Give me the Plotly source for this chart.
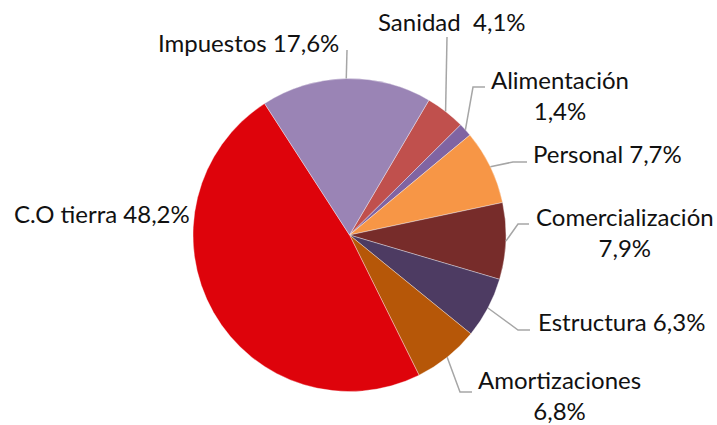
"""
Distribución de costes (gráfico de tarta estilo Excel).
"""
import math
import plotly.graph_objects as go

W, H = 717, 425

# datos
categorias = ["Sanidad", "Alimentación", "Personal", "Comercialización",
              "Estructura", "Amortizaciones", "C.O tierra", "Impuestos"]
porcentajes = [4.1, 1.4, 7.7, 7.9, 6.3, 6.8, 48.2, 17.6]
separadores = ["\u00a0 ", "<br>", " ", "<br>", " ", "<br>", " ", " "]
colores = ["#C0504D", "#8064A2", "#F79646", "#772C2A",
           "#4D3B62", "#B65708", "#DE030B", "#9A84B5"]

# geometría de la tarta (px)
CX, CY, R = 349.5, 235, 156.5
ROTACION = 30.5

# posición de etiquetas (px): x, y, xanchor
pos_etiquetas = [
    (452, 21, "center"),
    (560, 95, "center"),
    (607, 154, "center"),
    (625, 232, "center"),
    (621, 321, "center"),
    (559, 395, "center"),
    (102, 213, "center"),
    (248, 42, "center"),
]
# codos de las líneas guía (px); None = sin línea
codos = [
    [(447, 37)],
    [(485, 87), (473, 87)],
    [(527, 162), (513, 162)],
    [(529, 224), (518, 224)],
    [(530, 330), (518, 330)],
    [(472, 392), (460, 392)],
    None,
    [(347, 50)],
]


def px(x):
    return x / W


def py(y):
    return 1 - y / H


fig = go.Figure()
fig.add_trace(go.Pie(
    labels=categorias,
    values=porcentajes,
    marker=dict(colors=colores, line=dict(color="rgba(255,255,255,0.6)", width=0.6)),
    sort=False,
    direction="clockwise",
    rotation=ROTACION,
    textinfo="none",
    hoverinfo="label+percent",
    domain=dict(x=[px(CX - R), px(CX + R)], y=[py(CY + R), py(CY - R)]),
))

total = sum(porcentajes)
acum = 0
formas = []
anotaciones = []
for i, (nombre, valor) in enumerate(zip(categorias, porcentajes)):
    ang = math.radians(ROTACION + (acum + valor / 2) / total * 360)
    acum += valor
    borde = (CX + R * math.sin(ang), CY - R * math.cos(ang))

    texto = nombre + separadores[i] + f"{valor:.1f}".replace(".", ",") + "%"
    x, y, xa = pos_etiquetas[i]
    anotaciones.append(dict(
        x=px(x), y=py(y), xref="paper", yref="paper",
        text=texto, showarrow=False, xanchor=xa, yanchor="middle",
        font=dict(family="Lato, Carlito, sans-serif", size=24, color="#111111"),
    ))
    if codos[i]:
        puntos = codos[i] + [borde]
        camino = "M " + " L ".join(f"{px(a)},{py(b)}" for a, b in puntos)
        formas.append(dict(type="path", xref="paper", yref="paper", path=camino,
                           line=dict(color="#A6A6A6", width=1.5)))

fig.update_layout(
    width=W, height=H,
    margin=dict(l=0, r=0, t=0, b=0),
    paper_bgcolor="white",
    plot_bgcolor="white",
    showlegend=False,
    shapes=formas,
    annotations=anotaciones,
)

# sin el margen por defecto del <body> y sin barra de herramientas
fig.write_html("out.html", config={"displayModeBar": False},
               post_script="document.body.style.margin='0';")
